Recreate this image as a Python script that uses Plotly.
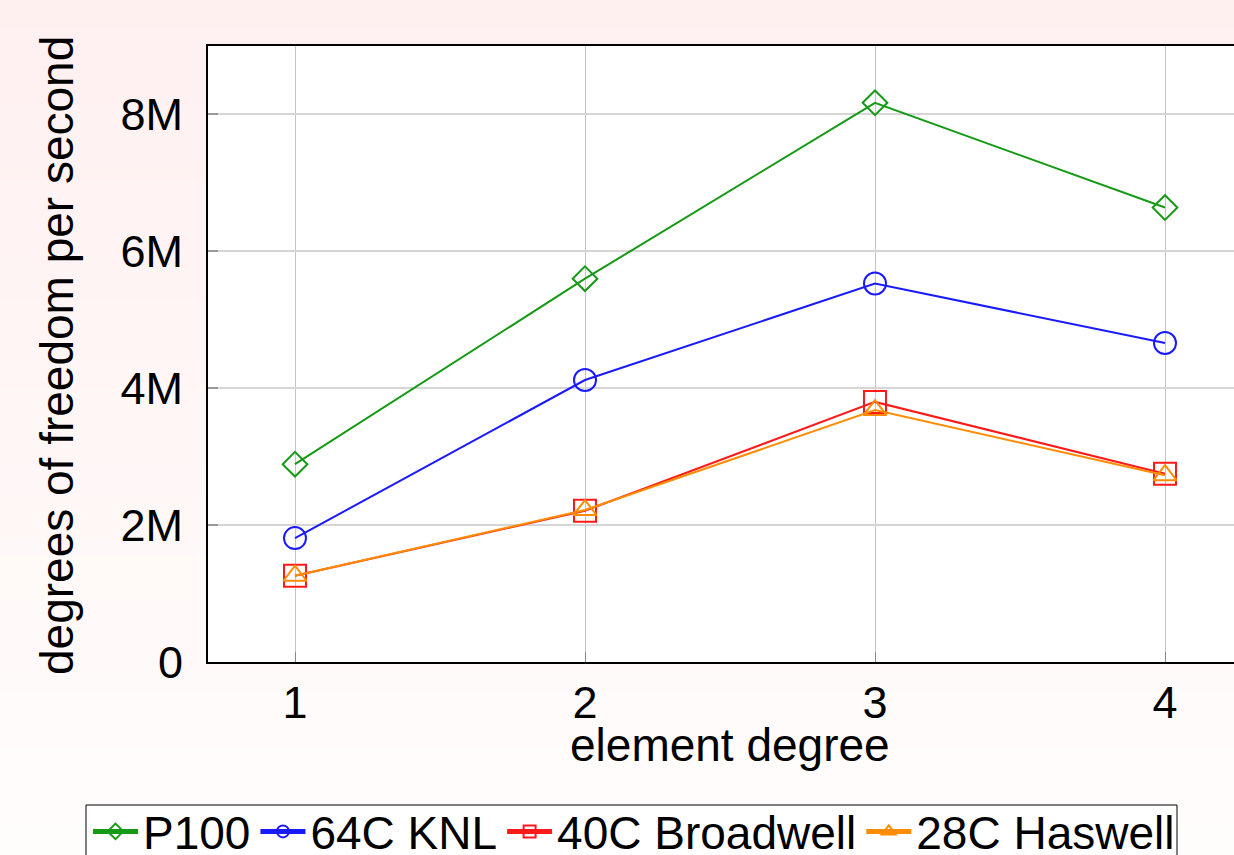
import plotly.graph_objects as go

# ---- data ----
element_degree = [1, 2, 3, 4]
p100 = [2.89e6, 5.60e6, 8.17e6, 6.64e6]
knl_64c = [1.81e6, 4.12e6, 5.53e6, 4.66e6]
broadwell_40c = [1.26e6, 2.21e6, 3.80e6, 2.75e6]
haswell_28c = [1.26e6, 2.22e6, 3.68e6, 2.73e6]
series_names = ["P100", "64C KNL", "40C Broadwell", "28C Haswell"]
y_tick_vals = [0, 2e6, 4e6, 6e6, 8e6]
y_tick_text = ["0", "2M", "4M", "6M", "8M"]
x_tick_vals = [1, 2, 3, 4]
x_tick_text = ["1", "2", "3", "4"]

# ---- styling ----
W, H = 1234, 855
L, T, B = 208, 46, 662
FONT = "Liberation Sans, Arial, Helvetica, sans-serif"
colors = ["#159a15", "#1a1aff", "#ff1a1a", "#ff8c00"]
symbols = ["diamond-open", "circle-open", "square-open", "triangle-up-open"]
msizes = [19, 22, 22, 20]

fig = go.Figure()
for name, ys, c, s, ms in zip(series_names,
                              [p100, knl_64c, broadwell_40c, haswell_28c],
                              colors, symbols, msizes):
    fig.add_trace(go.Scatter(
        x=element_degree, y=ys, name=name, mode="lines+markers",
        line=dict(color=c, width=2),
        marker=dict(symbol=s, size=ms, color=c, line=dict(color=c, width=2)),
    ))

# gradient background (pink at top fading to white)
ph = B - T
pw = W - L
def py(px):
    return 1 - (px - T) / ph
def pxx(px):
    return (px - L) / pw
shapes = []
n = 57
for i in range(n):
    y0 = i * H / n
    y1 = (i + 1) * H / n + 0.5
    f = (i + 0.5) / n
    g = round(240 + 13 * f)
    b = round(240 + 12 * f)
    shapes.append(dict(type="rect", xref="paper", yref="paper",
                       x0=pxx(-5), x1=pxx(W + 5), y0=py(y1), y1=py(y0),
                       fillcolor=f"rgb(255,{g},{b})", line=dict(width=0),
                       layer="below"))
# plot area
shapes.append(dict(type="rect", xref="x domain", yref="y domain",
                   x0=0, x1=1, y0=0, y1=1, fillcolor="white",
                   line=dict(width=0), layer="below"))
# legend box (cut off at the bottom edge)
shapes.append(dict(type="rect", xref="paper", yref="paper",
                   x0=pxx(86), x1=pxx(1177), y0=py(900), y1=py(805),
                   fillcolor="white", line=dict(color="black", width=1),
                   layer="below"))

fig.update_layout(
    width=W, height=H,
    margin=dict(l=L, r=0, t=T, b=H - B, autoexpand=False),
    paper_bgcolor="white", plot_bgcolor="white",
    font=dict(family=FONT, size=45, color="black"),
    shapes=shapes,
    showlegend=True,
    legend=dict(orientation="h", x=pxx(88), xanchor="left",
                y=py(795), yanchor="top",
                bgcolor="rgba(0,0,0,0)", borderwidth=0,
                font=dict(family=FONT, size=46), itemsizing="constant",
                itemwidth=45, tracegroupgap=0),
    annotations=[
        dict(text="element degree", xref="paper", yref="paper",
             x=pxx(730), y=py(745), xanchor="center",
             yanchor="middle", showarrow=False, font=dict(size=46)),
        dict(text="degrees of freedom per second", xref="paper", yref="paper",
             x=pxx(57), y=py(356), xanchor="center",
             yanchor="middle", textangle=-90, showarrow=False,
             font=dict(size=46)),
    ],
)
fig.update_xaxes(range=[0.7, 0.7 + pw / 290.0], tickvals=x_tick_vals,
                 ticktext=x_tick_text, showgrid=True, gridcolor="#c4c4c4",
                 gridwidth=1, zeroline=False, showline=True, linecolor="black",
                 linewidth=2, mirror=True, ticks="inside", ticklen=10,
                 tickcolor="#888888", tickwidth=1, ticklabelstandoff=0,
                 tickfont=dict(size=45))
fig.update_yaxes(range=[0, 9e6], tickvals=y_tick_vals, ticktext=y_tick_text,
                 showgrid=True, gridcolor="#d6d6d6", gridwidth=2,
                 zeroline=False, showline=True, linecolor="black",
                 linewidth=2, mirror=False, ticks="inside", ticklen=10,
                 tickcolor="#999999", tickwidth=2, ticklabelstandoff=14,
                 tickfont=dict(size=45))

fig.write_html("out.html",
               config={"displayModeBar": False},
               post_script="document.body.style.margin='0px';"
                           "document.body.style.overflow='hidden';")
